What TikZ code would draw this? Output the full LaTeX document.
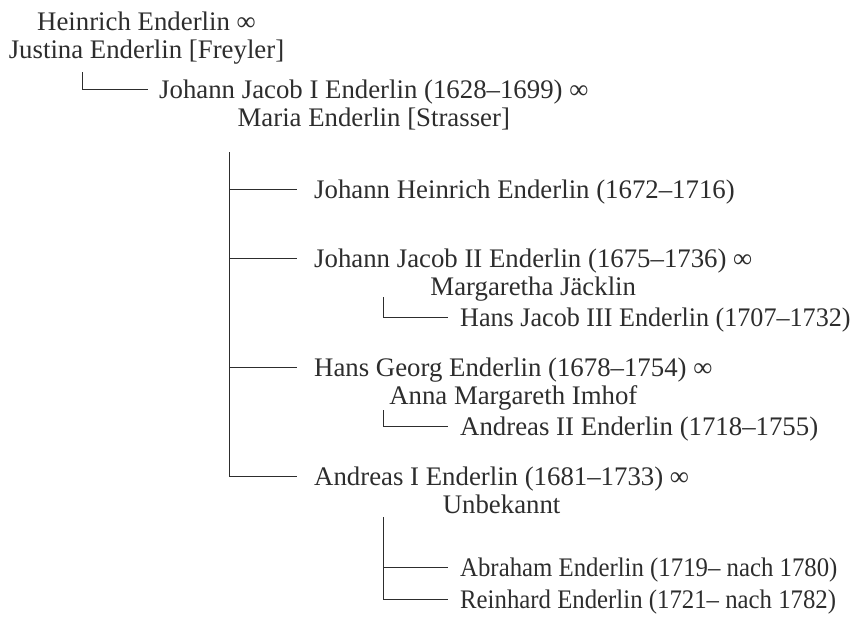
\documentclass[tikz,border=0pt]{standalone}
\usepackage{fontspec}
\setmainfont{Liberation Serif}
\usepackage{tikz}
\usepackage{graphicx}
\definecolor{ink}{RGB}{45,45,45}
\tikzset{
  person/.style={inner sep=0pt, anchor=base west, text=ink, font=\fontsize{26.8}{28}\selectfont},
  couple/.style={inner sep=0pt, anchor=base west, text=ink, font=\fontsize{26.8}{28}\selectfont},
  link/.style={draw=ink, line width=1pt}
}
\newcommand{\pair}[2]{\begin{tabular}[t]{@{}c@{}}#1\\#2\end{tabular}}
\newcommand{\marr}{∞}
\newcommand{\narrow}[2]{\scalebox{#1}[1]{#2}}
\begin{document}
\begin{tikzpicture}[x=1pt,y=-1pt]
\useasboundingbox (0,0) rectangle (862,624);
% generation 0
\node[couple, anchor=base] (hein) at (146.5,30) {\pair{Heinrich Enderlin \marr}{Justina Enderlin [Freyler]}};
% generation 1
\node[couple] (jj1) at (159,98) {\pair{Johann Jacob I Enderlin (1628–1699) \marr}{Maria Enderlin [Strasser]}};
% generation 2
\node[person] (jh) at (314,198) {Johann Heinrich Enderlin (1672–1716)};
\node[couple] (jj2) at (314,267) {\pair{Johann Jacob II Enderlin (1675–1736) \marr}{Margaretha Jäcklin}};
\node[couple] (hg) at (314,376) {\pair{Hans Georg Enderlin (1678–1754) \marr}{Anna Margareth Imhof}};
\node[couple] (a1) at (314,485) {\pair{Andreas I Enderlin (1681–1733) \marr}{Unbekannt}};
% generation 3
\node[person] (hj3) at (460,326) {\narrow{0.975}{Hans Jacob III Enderlin (1707–1732)}};
\node[person] (a2) at (460,435) {Andreas II Enderlin (1718–1755)};
\node[person] (abr) at (460,576) {\narrow{0.925}{Abraham Enderlin (1719– nach 1780)}};
\node[person] (rei) at (460,608) {\narrow{0.925}{Reinhard Enderlin (1721– nach 1782)}};

% connector anchors
\coordinate (t0) at (82,72);
\coordinate (t1) at (229,152);
\coordinate (t2) at (383,297);
\coordinate (t3) at (383,410);
\coordinate (t4) at (383,517);
\coordinate (e-jj1) at ([xshift=-11pt,yshift=8.5pt]jj1.base west);
\foreach \n in {jh,jj2,hg,a1}{
  \coordinate (e-\n) at ([xshift=-17pt,yshift=8.5pt]\n.base west);
}
\foreach \n in {hj3,a2,abr,rei}{
  \coordinate (e-\n) at ([xshift=-12pt,yshift=8.5pt]\n.base west);
}
\draw[link] (t0) |- (e-jj1);
\draw[link] (t1) |- (e-jh);
\draw[link] (t1) |- (e-jj2);
\draw[link] (t1) |- (e-hg);
\draw[link] (t1) |- (e-a1);
\draw[link] (t2) |- (e-hj3);
\draw[link] (t3) |- (e-a2);
\draw[link] (t4) |- (e-abr);
\draw[link] (t4) |- (e-rei);
\end{tikzpicture}
\end{document}
